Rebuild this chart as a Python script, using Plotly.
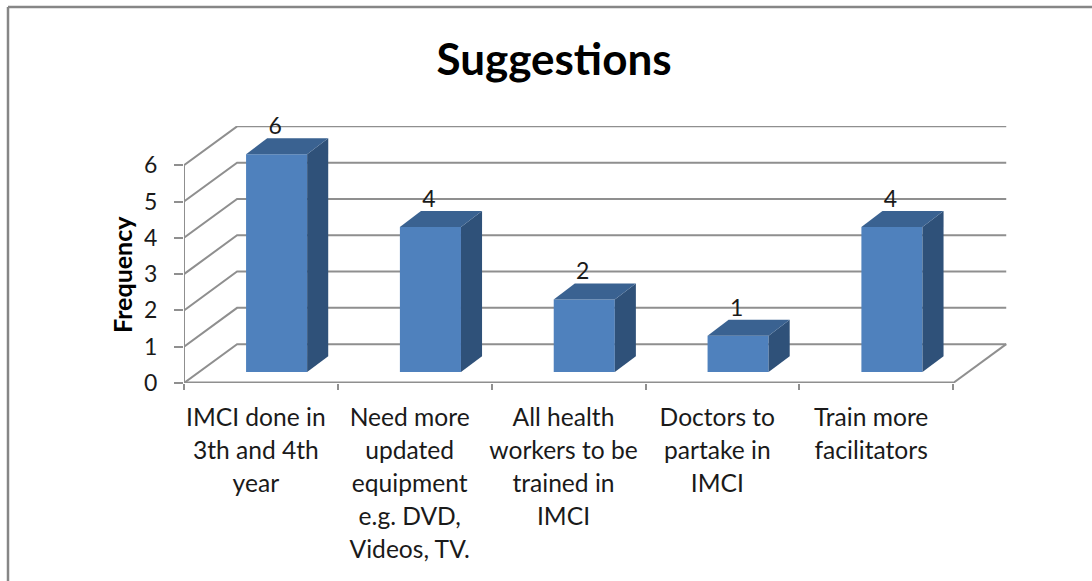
import plotly.graph_objects as go

FONT = "Lato"
GRID = "#8f8f8f"
W, H = 1092, 581

title = "Suggestions"
y_title = "Frequency"
categories = [
    ["IMCI done in", "3th and 4th", "year"],
    ["Need more", "updated", "equipment", "e.g. DVD,", "Videos, TV."],
    ["All health", "workers to be", "trained in", "IMCI"],
    ["Doctors to", "partake in", "IMCI"],
    ["Train more", "facilitators"],
]
values = [6, 4, 2, 1, 4]
y_ticks = [0, 1, 2, 3, 4, 5, 6]

# fake 3d: depth of the walls and of the bars, in axis units
wall_dx, wall_dy = 0.345, 1.07
bar_dx, bar_dy = 0.137, 0.44
bar_shift, bar_base, bar_width = 0.102, 0.30, 0.397
label_gap = 1.01
tick_label_shift = -0.033

n = len(values)
slots = list(range(n + 1))
centers = [i + 0.5 for i in range(n)]
x_range = [0, n + wall_dx + 0.005]
y_range = [0, 7.08]


def wrap(lines):
    # outer tick font sets the line spacing, the span sets the glyph size
    return "<br>".join(f'<span style="font-size:24.6px">{s}</span>' for s in lines)


fig = go.Figure()

# walls and floor go on the bottom subplot
for v in y_ticks:
    fig.add_trace(go.Scatter(
        x=[0, wall_dx, n + wall_dx], y=[v, v + wall_dy, v + wall_dy],
        mode="lines", line=dict(color=GRID, width=2), hoverinfo="skip", cliponaxis=False))
fig.add_trace(go.Scatter(
    x=[n, n + wall_dx], y=[0, wall_dy],
    mode="lines", line=dict(color=GRID, width=2), hoverinfo="skip", cliponaxis=False))
fig.add_trace(go.Scatter(
    x=[0, 0], y=[0, max(y_ticks)],
    mode="lines", line=dict(color=GRID, width=2), hoverinfo="skip", cliponaxis=False))
fig.add_trace(go.Scatter(
    x=[0, n], y=[0, 0],
    mode="lines", line=dict(color=GRID, width=3), hoverinfo="skip", cliponaxis=False))

# bars on the overlay so they sit above the grid
fig.add_trace(go.Bar(
    x=[c + bar_shift for c in centers], y=values, base=bar_base, width=bar_width,
    marker=dict(color="#4f81bd", line=dict(width=0)),
    xaxis="x2", yaxis="y2", hoverinfo="skip"))

for c, v in zip(centers, values):
    left = c + bar_shift - bar_width / 2
    right = c + bar_shift + bar_width / 2
    top = bar_base + v
    fig.add_trace(go.Scatter(
        x=[right, right + bar_dx, right + bar_dx, right, right],
        y=[bar_base, bar_base + bar_dy, top + bar_dy, top, bar_base],
        mode="lines", fill="toself", fillcolor="#2f5179", line=dict(width=0),
        xaxis="x2", yaxis="y2", hoverinfo="skip"))
    fig.add_trace(go.Scatter(
        x=[left, left + bar_dx, right + bar_dx, right, left],
        y=[top, top + bar_dy, top + bar_dy, top, top],
        mode="lines", fill="toself", fillcolor="#3a6291", line=dict(width=0),
        xaxis="x2", yaxis="y2", hoverinfo="skip"))

fig.add_trace(go.Scatter(
    x=[c + bar_shift - 0.01 for c in centers], y=[v + label_gap for v in values],
    text=[str(v) for v in values], mode="text", textposition="middle center",
    textfont=dict(family=FONT, size=23, color="#1a1a1a"),
    xaxis="x2", yaxis="y2", cliponaxis=False, hoverinfo="skip"))

fig.update_layout(
    width=W, height=H, autosize=False,
    margin=dict(l=0, r=0, t=0, b=0, pad=0, autoexpand=False),
    paper_bgcolor="white", plot_bgcolor="rgba(0,0,0,0)",
    showlegend=False,
    font=dict(family=FONT, color="#1a1a1a"),
    title=dict(text=f"<b>{title}</b>", x=554 / W, xanchor="center", y=1 - 60 / H, yanchor="middle",
               font=dict(family=FONT, size=44, color="black")),
    xaxis=dict(
        domain=[184 / W, 1007 / W], range=x_range, showgrid=False, zeroline=False, showline=False,
        automargin=False,
        tickmode="array", tickvals=[c + tick_label_shift for c in centers],
        ticktext=[wrap(c) for c in categories],
        ticks="", tickangle=0, tickfont=dict(family=FONT, size=25.4, color="#1a1a1a"),
        ticklabelstandoff=17,
        minor=dict(tickmode="array", tickvals=slots, ticks="outside", ticklen=6, tickwidth=2,
                   tickcolor=GRID, showgrid=False),
    ),
    yaxis=dict(
        domain=[1 - 383 / H, 1 - 126 / H], range=y_range, showgrid=False, zeroline=False, showline=False,
        automargin=False,
        tickmode="array", tickvals=y_ticks, ticks="outside", ticklen=9, tickwidth=2, tickcolor=GRID,
        tickfont=dict(family=FONT, size=23, color="#1a1a1a"), ticklabelstandoff=12,
    ),
    xaxis2=dict(overlaying="x", matches="x", visible=False),
    yaxis2=dict(overlaying="y", matches="y", visible=False),
    annotations=[
        dict(text=f"<b>{y_title}</b>", textangle=-90, xref="paper", yref="paper",
             x=122 / W, y=1 - 275 / H, xanchor="center", yanchor="middle", showarrow=False,
             font=dict(family=FONT, size=25, color="black")),
    ],
)

# grey frame of the chart object, open on the right and at the bottom
fig.add_shape(type="line", xref="paper", yref="paper", x0=8 / W, x1=8 / W, y0=0, y1=1 - 7 / H,
              line=dict(color="#868686", width=2.5))
fig.add_shape(type="line", xref="paper", yref="paper", x0=8 / W, x1=1, y0=1 - 7 / H, y1=1 - 7 / H,
              line=dict(color="#868686", width=2.5))

fig.write_html("out.html", post_script="document.body.style.margin='0';",
               config={"displayModeBar": False})
